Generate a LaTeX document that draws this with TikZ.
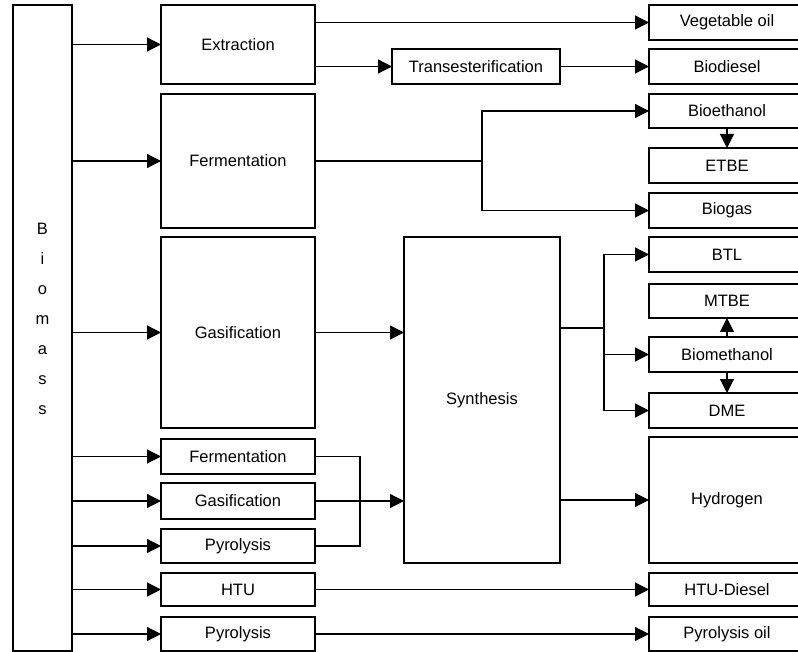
\documentclass[tikz,border=0pt]{standalone}
\usepackage{fontspec}
\setmainfont{Liberation Sans}
\usetikzlibrary{arrows.meta,calc}
\begin{document}
\begin{tikzpicture}[x=1pt,y=-1pt,
  box/.style={draw, line width=1.2pt, inner sep=0pt, outer sep=0pt, font=\fontsize{16.5}{19}\selectfont},
  arr/.style={line width=1.2pt, -{Triangle[length=14pt,width=14pt]}},
  ln/.style={line width=1.2pt}]
\useasboundingbox (0,0) rectangle (798,652);
\clip (0,0) rectangle (798,652);
% Biomass
\node[box, minimum width=59pt, minimum height=646pt] (bio) at (42.5,328) {};
\node[inner sep=0pt, align=center, anchor=north, font=\fontsize{16.5}{30}\selectfont] (biotext) at (42.5,223) {B\\i\\o\\m\\a\\s\\s};
% process column
\node[box, minimum width=154pt, minimum height=79pt] (ext) at (238,44.5) {Extraction};
\node[box, minimum width=154pt, minimum height=134pt] (ferm) at (238,161) {Fermentation};
\node[box, minimum width=154pt, minimum height=191pt] (gas) at (238,332.5) {Gasification};
\node[box, minimum width=154pt, minimum height=35pt] (ferm2) at (238,456.5) {Fermentation};
\node[box, minimum width=154pt, minimum height=36pt] (gas2) at (238,501) {Gasification};
\node[box, minimum width=154pt, minimum height=34pt] (pyr2) at (238,546) {Pyrolysis};
\node[box, minimum width=154pt, minimum height=33pt] (htu) at (238,589.5) {HTU};
\node[box, minimum width=154pt, minimum height=34pt] (pyr3) at (238,634) {Pyrolysis};
% middle
\node[box, minimum width=168pt, minimum height=35pt] (trans) at (476,66.5) {Transesterification};
\node[box, minimum width=156pt, minimum height=326pt] (synth) at (482,400) {Synthesis};
% products
\node[box, minimum width=156pt, minimum height=35pt] (veg) at (727,22.5) {Vegetable oil};
\node[box, minimum width=156pt, minimum height=35pt] (biod) at (727,66.5) {Biodiesel};
\node[box, minimum width=156pt, minimum height=34pt] (beth) at (727,111) {Bioethanol};
\node[box, minimum width=156pt, minimum height=35pt] (etbe) at (727,165.5) {ETBE};
\node[box, minimum width=156pt, minimum height=35pt] (biogas) at (727,210.5) {Biogas};
\node[box, minimum width=156pt, minimum height=35pt] (btl) at (727,254.5) {BTL};
\node[box, minimum width=156pt, minimum height=34pt] (mtbe) at (727,301) {MTBE};
\node[box, minimum width=156pt, minimum height=35pt] (bmeth) at (727,354.5) {Biomethanol};
\node[box, minimum width=156pt, minimum height=35pt] (dme) at (727,410.5) {DME};
\node[box, minimum width=156pt, minimum height=126pt] (hyd) at (727,500) {Hydrogen};
\node[box, minimum width=156pt, minimum height=33pt] (htud) at (727,589.5) {HTU-Diesel};
\node[box, minimum width=156pt, minimum height=34pt] (pyro) at (727,634) {Pyrolysis oil};
% biomass arrows
\foreach \n in {ext,ferm,gas,ferm2,gas2,pyr2,htu,pyr3}
  \draw[arr] (bio.east |- \n.west) -- (\n.west);
% extraction
\draw[arr] (ext.east |- veg.west) -- (veg.west);
\draw[arr] (ext.east |- trans.west) -- (trans.west);
\draw[arr] (trans.east) -- (biod.west);
% fermentation
\coordinate (fj) at (482,161);
\draw[ln] (ferm.east) -- (fj);
\draw[arr] (fj) |- (beth.west);
\draw[arr] (fj) |- (biogas.west);
\draw[arr] (beth.south) -- (etbe.north);
% gasification
\draw[arr] (gas.east) -- (gas.east -| synth.west);
\coordinate (sj) at (604,328);
\draw[ln] (synth.east |- sj) -- (sj);
\draw[arr] (sj) |- (btl.west);
\draw[arr] (sj) |- (bmeth.west);
\draw[arr] (sj) |- (dme.west);
\draw[arr] (bmeth.north) -- (mtbe.south);
\draw[arr] (bmeth.south) -- (dme.north);
% merge
\coordinate (mj) at (360,501);
\draw[ln] (ferm2.east) -| (mj) |- (pyr2.east);
\draw[arr] (gas2.east) -- (gas2.east -| synth.west);
\draw[arr] (synth.east |- hyd.west) -- (hyd.west);
\draw[arr] (htu.east) -- (htud.west);
\draw[arr] (pyr3.east) -- (pyro.west);
\end{tikzpicture}
\end{document}
